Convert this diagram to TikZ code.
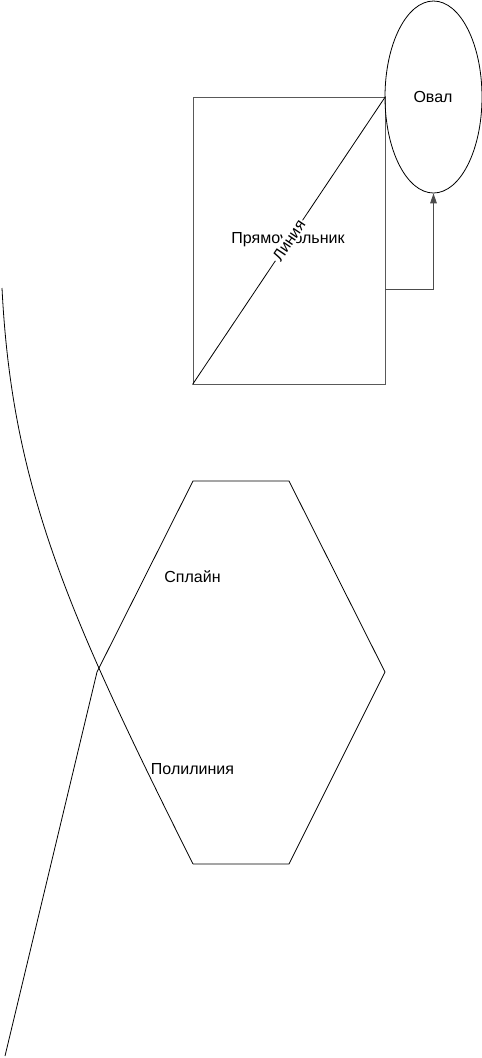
\documentclass[tikz,border=0pt]{standalone}
\usepackage{fontspec}
\setmainfont{Liberation Sans}
\usetikzlibrary{arrows.meta,shapes.geometric}
\begin{document}
\begin{tikzpicture}[x=0.75pt,y=-0.75pt,
  every node/.style={font=\fontsize{12pt}{14pt}\selectfont},
  boxshape/.style={draw=black!65,line width=0.7pt,minimum width=144pt,minimum height=215.25pt,inner sep=0pt},
  ovalshape/.style={draw=black,line width=0.6pt,ellipse,minimum width=72.75pt,minimum height=144pt,inner sep=0pt},
  thinline/.style={draw=black,line width=0.6pt},
  conn/.style={draw=black!70,line width=0.7pt,-{Triangle[length=7.5pt,width=5pt]}},
  lbl/.style={inner sep=1pt}
  ]
\useasboundingbox (0,0) rectangle (482,1058);
% rectangle and oval
\node[boxshape] (rect) at (289,240.5) {};
\node[lbl] (rectlbl) at (288,240) {Прямоугольник};
\node[ovalshape] (oval) at (433.5,97) {};
\node[lbl] (ovallbl) at (433,97) {Овал};
% diagonal line with label
\draw[thinline] (rect.south west) -- node[sloped,fill=white,inner sep=1pt,pos=0.5] (linelbl) {Линия} (rect.north east);
% connector
\coordinate (c1) at (385,289);
\draw[conn] (c1) -| (oval.south);
% polyline
\coordinate (p1) at (5,1056);
\coordinate (p2) at (97,672);
\coordinate (p3) at (193,481);
\coordinate (p4) at (289,481);
\coordinate (p5) at (385,672);
\coordinate (p6) at (289,864);
\coordinate (p7) at (193,864);
\draw[thinline] (p1) -- (p2) -- (p3) -- (p4) -- (p5) -- (p6) -- (p7);
% spline
\coordinate (s0) at (2,288);
\draw[thinline] (s0) .. controls (12,488) and (68,614) .. (p7);
% labels
\node[lbl] (splbl) at (192.5,577) {Сплайн};
\node[lbl] (pllbl) at (192.5,769) {Полилиния};
\end{tikzpicture}
\end{document}
